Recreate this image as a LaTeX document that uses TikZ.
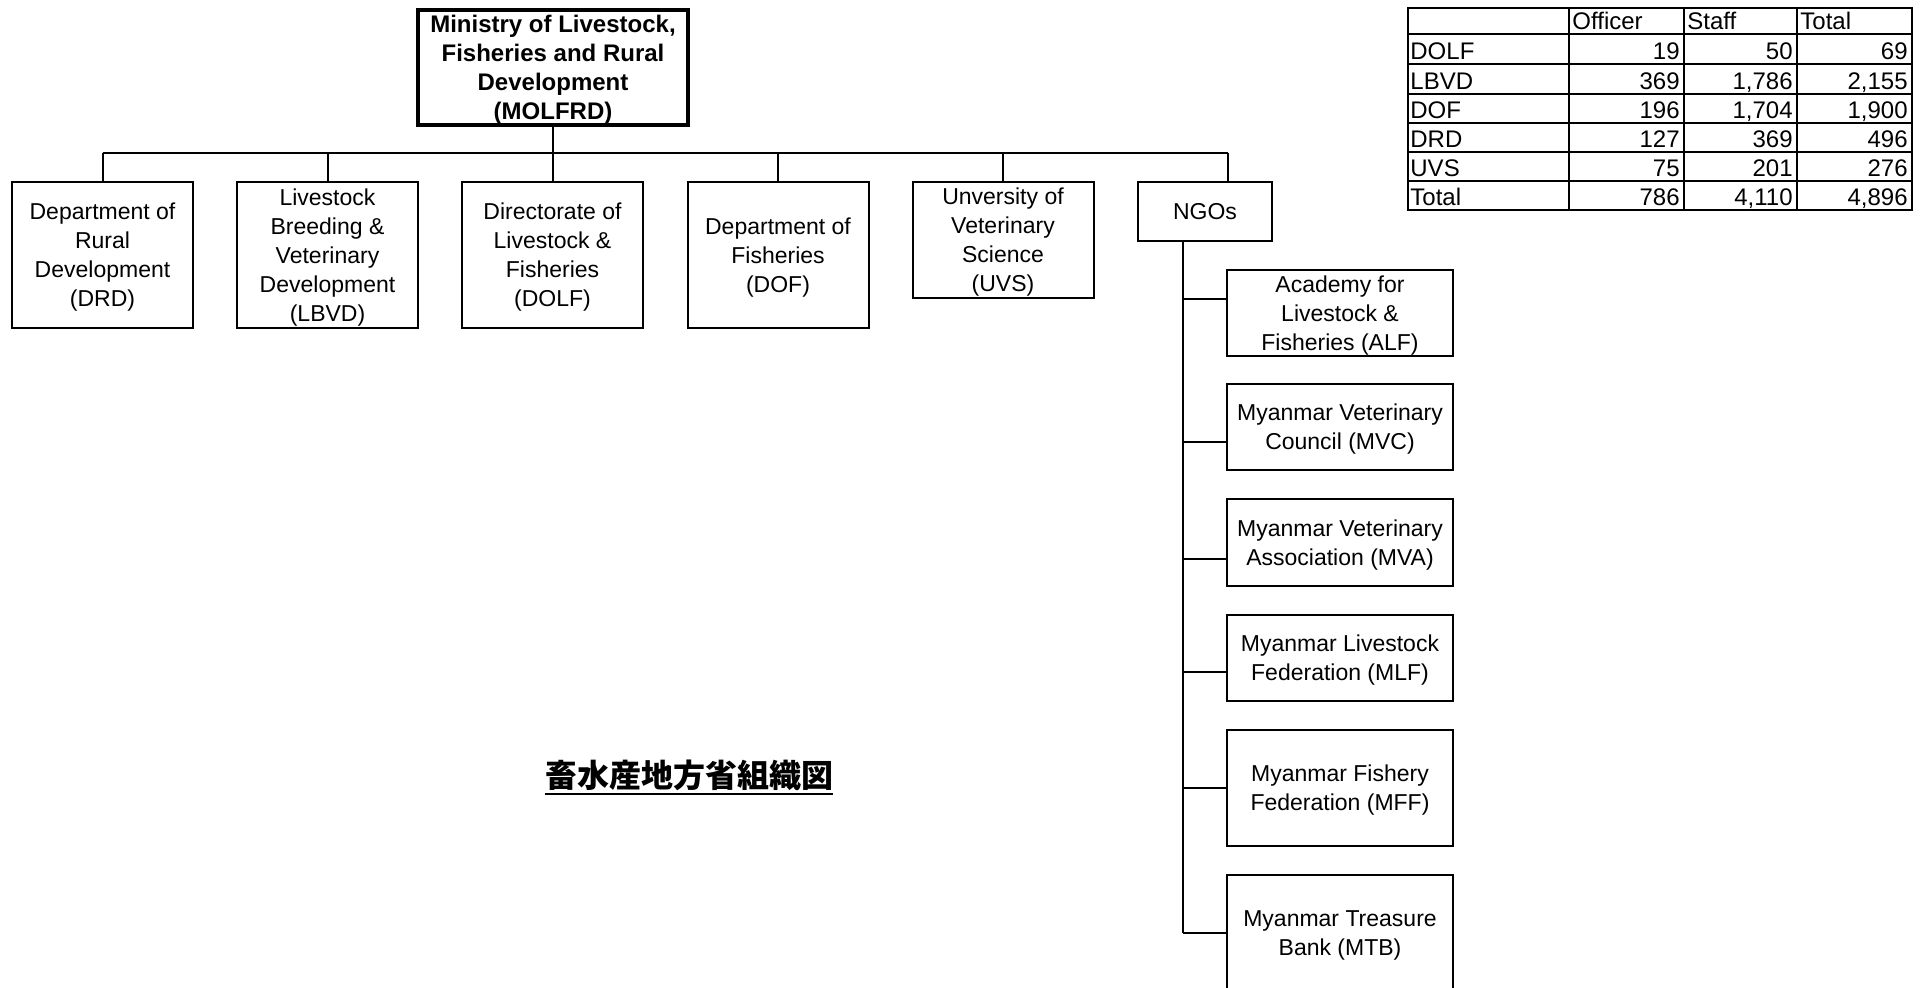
\documentclass[tikz,border=0pt]{standalone}
\usepackage{fontspec}
\setmainfont{Liberation Sans}
\newfontfamily\cjk{Noto Sans CJK JP}
\usetikzlibrary{calc}

\tikzset{
  box/.style={draw, line width=1pt, align=center, inner sep=0pt, text depth=-2pt, font=\fontsize{11.5}{14.5}\selectfont},
  topbox/.style={box, line width=2pt, text depth=0pt, font=\bfseries\fontsize{12}{14.5}\selectfont},
  dept/.style={box, minimum width=90.5pt, minimum height=73pt},
  ngobox/.style={box, minimum width=113pt, minimum height=43pt},
  link/.style={line width=1pt},
  cell/.style={inner sep=0pt, font=\fontsize{12}{14}\selectfont},
}

\begin{document}
\begin{tikzpicture}[x=0.5pt,y=-0.5pt]
      \useasboundingbox (0,0) rectangle (1926,988);

      \node[topbox, minimum width=135pt, minimum height=57.5pt] (molfrd) at (553,67.5) {Ministry of Livestock,\\Fisheries and Rural\\Development\\(MOLFRD)};

      \node[dept] (drd) at (102.5,255) {Department of\\Rural\\Development\\(DRD)};
      \node[dept] (lbvd) at (327.5,255) {Livestock\\Breeding \&\\Veterinary\\Development\\(LBVD)};
      \node[dept] (dolf) at (552.5,255) {Directorate of\\Livestock \&\\Fisheries\\(DOLF)};
      \node[dept] (dof) at (778,255) {Department of\\Fisheries\\(DOF)};
      \node[dept, minimum height=58pt] (uvs) at (1003,240) {Unversity of\\Veterinary\\Science\\(UVS)};
      \node[box, text depth=0pt, minimum width=67pt, minimum height=29.5pt] (ngo) at (1205,211.5) {NGOs};

      \node[ngobox] (alf) at (1340,313) {Academy for\\Livestock \&\\Fisheries (ALF)};
      \node[ngobox] (mvc) at (1340,427) {Myanmar Veterinary\\Council (MVC)};
      \node[ngobox] (mva) at (1340,542.5) {Myanmar Veterinary\\Association (MVA)};
      \node[ngobox] (mlf) at (1340,657.5) {Myanmar Livestock\\Federation (MLF)};
      \node[ngobox, minimum height=58pt] (mff) at (1340,788) {Myanmar Fishery\\Federation (MFF)};
      \node[ngobox, minimum height=58pt] (mtb) at (1340,933) {Myanmar Treasure\\Bank (MTB)};

      \coordinate (bus) at (553,153);
      \coordinate (ngotap) at ([xshift=11.5pt]ngo.north);
      \coordinate (spine) at ([xshift=-11pt]ngo.south);
      \draw[link] (molfrd.south) -- (bus);
      \draw[link] (drd.north |- bus) -- (ngotap |- bus);
      \foreach \n in {drd.north,lbvd.north,dolf.north,dof.north,uvs.north,ngotap}
        \draw[link] (\n |- bus) -- (\n);
      \draw[link] (spine) -- (spine |- mtb.west);
      \foreach \n/\s in {alf/7pt,mvc/-7.5pt,mva/-8pt,mlf/-7pt,mff/0pt,mtb/0pt}
        \draw[link] ($(spine |- \n.west)+(0,\s)$) -- ([yshift=\s]\n.west);

      \draw[link] (1408,8) rectangle (1912,210);
      \foreach \y in {34,64,94,123,152,181}
        \draw[link] (1408,\y) -- (1912,\y);
      \foreach \x in {1569,1684,1797}
        \draw[link] (\x,8) -- (\x,210);
      \foreach \t/\x [count=\i] in {Officer/1569,Staff/1684,Total/1797}
        \node[cell, anchor=base west] (head\i) at (\x+3,30) {\t};
      \foreach \lab/\o/\s/\t/\y [count=\r] in {DOLF/19/50/69/60, LBVD/369/{1,786}/{2,155}/90, DOF/196/{1,704}/{1,900}/119, DRD/127/369/496/148, UVS/75/201/276/177, Total/786/{4,110}/{4,896}/206}{
        \node[cell, anchor=base west] (lab\r) at (1410,\y) {\lab};
        \node[cell, anchor=base east] (off\r) at (1680,\y) {\o};
        \node[cell, anchor=base east] (stf\r) at (1793,\y) {\s};
        \node[cell, anchor=base east] (tot\r) at (1908,\y) {\t};
      }

      \node[inner sep=0pt, anchor=base, font=\cjk\bfseries\fontsize{16}{18}\selectfont] (title) at (689,787) {畜水産地方省組織図};
      \draw[line width=1pt] ([yshift=-3.5pt]title.base west) -- ([yshift=-3.5pt]title.base east);

    \end{tikzpicture}
\end{document}
